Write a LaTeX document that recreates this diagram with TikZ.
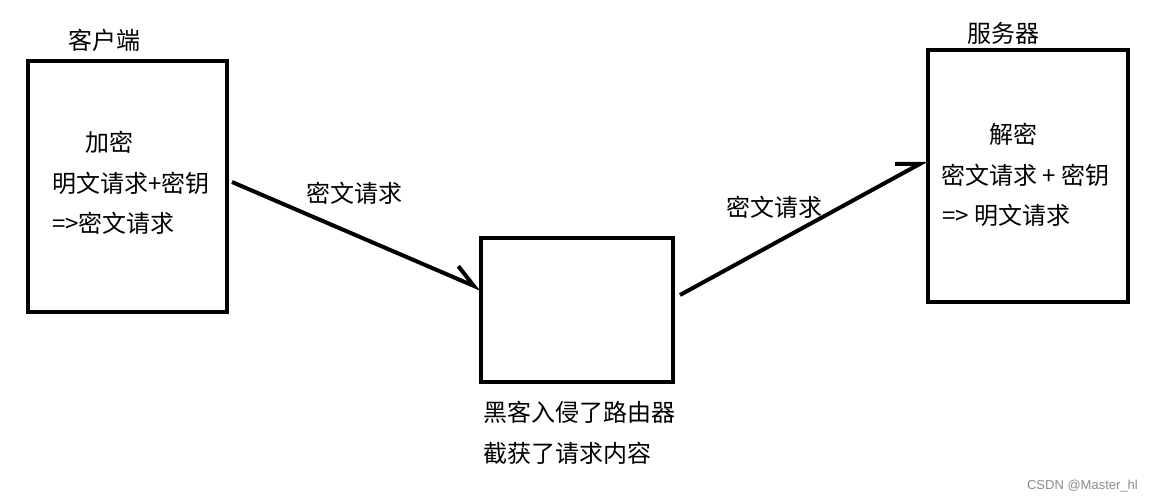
\documentclass[tikz,border=0pt]{standalone}
\usepackage{fontspec}
\setmainfont{Noto Sans CJK SC}
\newfontfamily\wmfont{Liberation Sans}
\usetikzlibrary{arrows.meta,calc}
\tikzset{
  boxnode/.style={draw, line width=4pt, inner sep=0pt},
  txt/.style={anchor=west, inner sep=0pt, font=\fontsize{24}{28}\selectfont},
  lbl/.style={inner sep=0pt, font=\fontsize{24}{28}\selectfont},
  arr/.style={line width=4pt, -{Straight Barb[left, length=22pt 0, width=24pt 0, line width=4pt]}},
}
\begin{document}
\begin{tikzpicture}[x=1pt,y=-1pt]
\useasboundingbox (0,0) rectangle (1153,502);
% boxes
\node[boxnode, minimum width=199pt, minimum height=251pt] (L) at (127.5,186.5) {};
\node[boxnode, minimum width=192pt, minimum height=144pt] (M) at (577,310) {};
\node[boxnode, minimum width=200pt, minimum height=252pt] (R) at (1028,176) {};
% titles
\node[lbl] (Lt) at (104,40) {客户端};
\node[lbl] (Rt) at (1003,33) {服务器};
% left box text
\node[txt] (L1) at (85,142) {加密};
\node[txt] (L2) at (52,183) {明文请求+密钥};
\node[txt] (L3) at (52,223) {=>密文请求};
% right box text
\node[txt] (R1) at (989,134) {解密};
\node[txt] (R2) at (941,175) {密文请求 + 密钥};
\node[txt] (R3) at (942,215) {=> 明文请求};
% middle text
\node[txt] (M1) at (483,412) {黑客入侵了路由器};
\node[txt] (M2) at (483,453) {截获了请求内容};
% arrows
\draw[arr] ($(L.north east)+(3,123)$) -- ($(M.north west)+(2,53)$);
\draw[arr] ($(M.north east)+(5,59)$) -- ($(R.north west)+(1,112)$);
\node[lbl] (A1) at (354,193) {密文请求};
\node[lbl] (A2) at (774,207) {密文请求};
% watermark
\node[anchor=east, inner sep=0pt, text=black!45, font=\wmfont\fontsize{13}{15}\selectfont] (wm) at (1138,486) {CSDN @Master\_hl};
\end{tikzpicture}
\end{document}
